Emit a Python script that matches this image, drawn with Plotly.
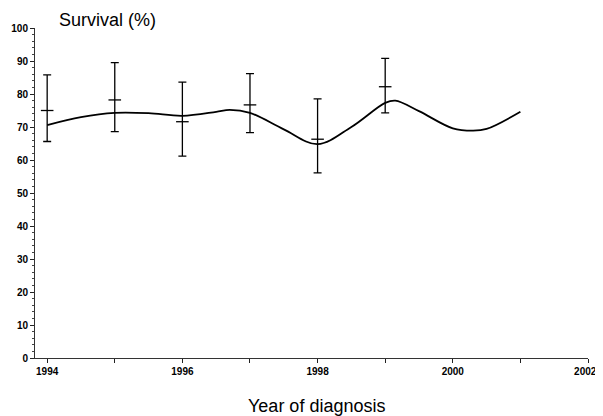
import plotly.graph_objects as go

# Error-bar data (point estimate with 95% CI)
years = [1994, 1995, 1996, 1997, 1998, 1999]
estimate = [75.0, 78.2, 71.6, 76.7, 66.3, 82.2]
upper = [85.8, 89.5, 83.6, 86.2, 78.5, 90.8]
lower = [65.6, 68.6, 61.2, 68.3, 56.1, 74.3]

# Smoothed trend curve
curve_x = [1994, 1994.5, 1995, 1995.5, 1996, 1996.5, 1996.7, 1997, 1997.5,
           1998, 1998.5, 1999, 1999.15, 1999.5, 2000, 2000.3, 2000.5, 2001]
curve_y = [70.6, 73.0, 74.3, 74.2, 73.4, 74.6, 75.2, 74.3, 69.3,
           64.8, 70.0, 77.3, 78.0, 74.8, 69.6, 68.9, 69.4, 74.6]

x_tickvals = list(range(1994, 2003))
y_tickvals = list(range(0, 101, 10))


def fmt_year(v):
    if v % 2:
        return ""
    # last label sits at the window edge: nudge it left so it is not clipped
    return str(v) + ("&nbsp;&nbsp;" if v == x_tickvals[-1] else "")


x_ticktext = [fmt_year(v) for v in x_tickvals]

err_plus = [u - e for u, e in zip(upper, estimate)]
err_minus = [e - l for e, l in zip(estimate, lower)]

fig = go.Figure()
fig.add_trace(go.Scatter(
    x=curve_x, y=curve_y, mode="lines",
    line=dict(color="black", width=1.8, shape="spline", smoothing=1.0),
    hoverinfo="skip", showlegend=False))
fig.add_trace(go.Scatter(
    x=years, y=estimate, mode="markers",
    marker=dict(symbol="line-ew", size=9, line=dict(color="black", width=1.3)),
    error_y=dict(type="data", symmetric=False, array=err_plus, arrayminus=err_minus,
                 color="black", thickness=1.3, width=4),
    showlegend=False))

tick_font = dict(size=10, family="Liberation Sans, Arial, sans-serif", weight=700)

# page body has an 8px default margin, so the figure is sized 8px smaller
fig.update_layout(
    width=595, height=408,
    margin=dict(l=27, r=15, t=20, b=58, autoexpand=False),
    paper_bgcolor="white", plot_bgcolor="white",
    font=dict(family="Liberation Sans, Arial, sans-serif", color="black"),
    xaxis=dict(range=[1993.82, 2002], tickvals=x_tickvals, ticktext=x_ticktext,
               ticks="outside", ticklen=4, tickcolor="#222", tickwidth=1,
               showline=True, linecolor="#333", linewidth=1, showgrid=False,
               zeroline=False, automargin=False, ticklabeloverflow="allow",
               tickfont=tick_font),
    yaxis=dict(range=[0, 100], tickvals=y_tickvals,
               ticks="outside", ticklen=4, tickcolor="#222", tickwidth=1,
               minor=dict(dtick=2, ticks="outside", ticklen=2, tickcolor="#444", showgrid=False),
               showline=True, linecolor="#333", linewidth=1, showgrid=False,
               zeroline=False, automargin=False, ticklabeloverflow="allow",
               tickfont=tick_font),
    annotations=[
        dict(text="Survival (%)", xref="paper", yref="paper", x=(57 - 35) / 553, y=1.0,
             yshift=8, xanchor="left", yanchor="middle", showarrow=False,
             font=dict(size=18)),
        dict(text="Year of diagnosis", xref="paper", yref="paper", x=(316 - 35) / 553, y=0,
             yshift=-48, xanchor="center", yanchor="middle", showarrow=False,
             font=dict(size=18)),
    ],
)

fig.write_html("out.html")
